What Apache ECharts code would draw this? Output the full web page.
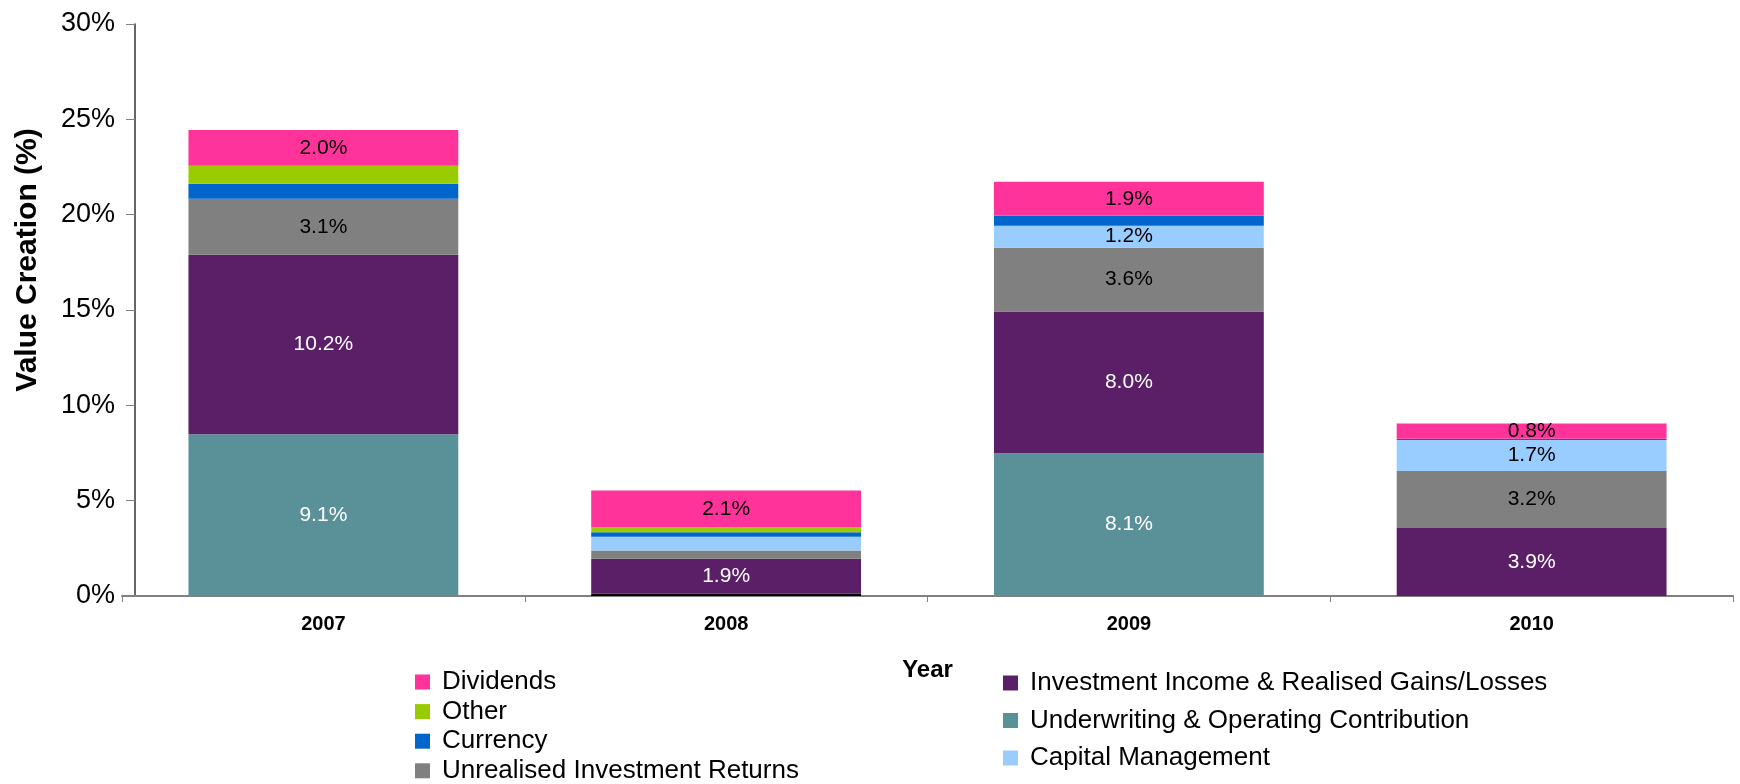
<!DOCTYPE html>
<html>
<head>
<meta charset="utf-8">
<script src="https://cdn.jsdelivr.net/npm/echarts@6/dist/echarts.min.js"></script>
<style>
    html, body { margin: 0; padding: 0; background: #fff; }
    #chart_show { width: 1740px; height: 784px; }
</style>
</head>
<body>
<div id="chart_show"></div>
<script>
// 年份
var years = ['2007', '2008', '2009', '2010'];

// 各部分数值 (按坐标轴读出的高度, %)
var underwriting = [8.48, 0.13, 7.49, 0];
var invIncome = [9.42, 1.83, 7.43, 3.56];
var unrealised = [2.93, 0.42, 3.35, 3.0];
var capitalMgmt = [0, 0.73, 1.15, 1.62];
var currency = [0.79, 0.23, 0.52, 0.07];
var other = [0.94, 0.25, 0, 0];
var dividends = [1.88, 1.94, 1.78, 0.8];

// 柱子上显示的标签
var underwritingLabels = ['9.1%', '', '8.1%', ''];
var invIncomeLabels = ['10.2%', '1.9%', '8.0%', '3.9%'];
var unrealisedLabels = ['3.1%', '', '3.6%', '3.2%'];
var capitalLabels = ['', '', '1.2%', '1.7%'];
var dividendLabels = ['2.0%', '2.1%', '1.9%', '0.8%'];

// y轴刻度
var yTicks = [0, 5, 10, 15, 20, 25, 30];

var font = 'Liberation Sans, Arial, sans-serif';

function makeSeries(name, values, color, labels, labelColor) {
    var data = [];
    for (var i = 0; i < values.length; i++) {
        data.push(values[i]);
    }
    return {
        name: name,
        type: 'bar',
        stack: 'total',
        barCategoryGap: '33%',
        itemStyle: { color: color },
        label: {
            show: !!labels,
            position: 'inside',
            color: labelColor || '#000',
            fontFamily: font,
            fontSize: 21,
            formatter: function(p) {
                return labels ? labels[p.dataIndex] : '';
            }
        },
        emphasis: { disabled: true },
        data: data
    };
}

var uwSeries = makeSeries('Underwriting & Operating Contribution', underwriting, '#5A9199', underwritingLabels, '#fff');
// 2008 的底部黑色细条
uwSeries.data[1] = { value: underwriting[1], itemStyle: { color: '#000' } };

var legendText = { fontSize: 26, lineHeight: 26, color: '#000', fontFamily: font, padding: [0, 0, 0, 7] };

var oChart = echarts.init(document.getElementById('chart_show'));
var chartopt = {
    animation: false,
    textStyle: { fontFamily: font },
    grid: {
        left: 122,
        right: 7,
        top: 24,
        bottom: 188
    },
    legend: [{
        orient: 'vertical',
        left: 410,
        top: 664,
        height: 130,
        icon: 'rect',
        itemWidth: 15,
        itemHeight: 15,
        itemGap: 3.6,
        selectedMode: false,
        textStyle: legendText,
        data: ['Dividends', 'Other', 'Currency', 'Unrealised Investment Returns']
    }, {
        orient: 'vertical',
        left: 998,
        top: 665,
        height: 130,
        icon: 'rect',
        itemWidth: 15,
        itemHeight: 15,
        itemGap: 11.5,
        selectedMode: false,
        textStyle: legendText,
        data: ['Investment Income & Realised Gains/Losses', 'Underwriting & Operating Contribution', 'Capital Management']
    }],
    xAxis: [{
        type: 'category',
        data: years,
        name: 'Year',
        nameLocation: 'middle',
        nameGap: 62,
        nameTextStyle: { fontSize: 24, fontWeight: 'bold', color: '#000', fontFamily: font },
        axisLine: { lineStyle: { color: '#808080', width: 2 } },
        axisTick: { show: true, length: 6, lineStyle: { color: '#808080' } },
        axisLabel: { fontSize: 20, fontWeight: 'bold', color: '#000', margin: 18 }
    }],
    yAxis: [{
        type: 'value',
        min: yTicks[0],
        max: yTicks[yTicks.length - 1],
        interval: 5,
        offset: -13,
        name: 'Value Creation (%)',
        nameLocation: 'middle',
        nameGap: 92,
        nameTextStyle: { fontSize: 30, fontWeight: 'bold', color: '#000', fontFamily: font, padding: [0, 0, 0, 100] },
        axisLine: { show: true, lineStyle: { color: '#333', width: 1.5 } },
        axisTick: { show: true, length: 9, lineStyle: { color: '#808080' } },
        splitLine: { show: false },
        axisLabel: {
            fontSize: 27,
            color: '#000',
            margin: 20,
            formatter: '{value}%'
        }
    }],
    series: [
        uwSeries,
        makeSeries('Investment Income & Realised Gains/Losses', invIncome, '#5A1F66', invIncomeLabels, '#fff'),
        makeSeries('Unrealised Investment Returns', unrealised, '#808080', unrealisedLabels, '#000'),
        makeSeries('Capital Management', capitalMgmt, '#99CCFF', capitalLabels, '#000'),
        makeSeries('Currency', currency, '#0066CC', null),
        makeSeries('Other', other, '#99CC00', null),
        makeSeries('Dividends', dividends, '#FF3399', dividendLabels, '#000')
    ]
};

oChart.setOption(chartopt);
</script>
</body>
</html>
